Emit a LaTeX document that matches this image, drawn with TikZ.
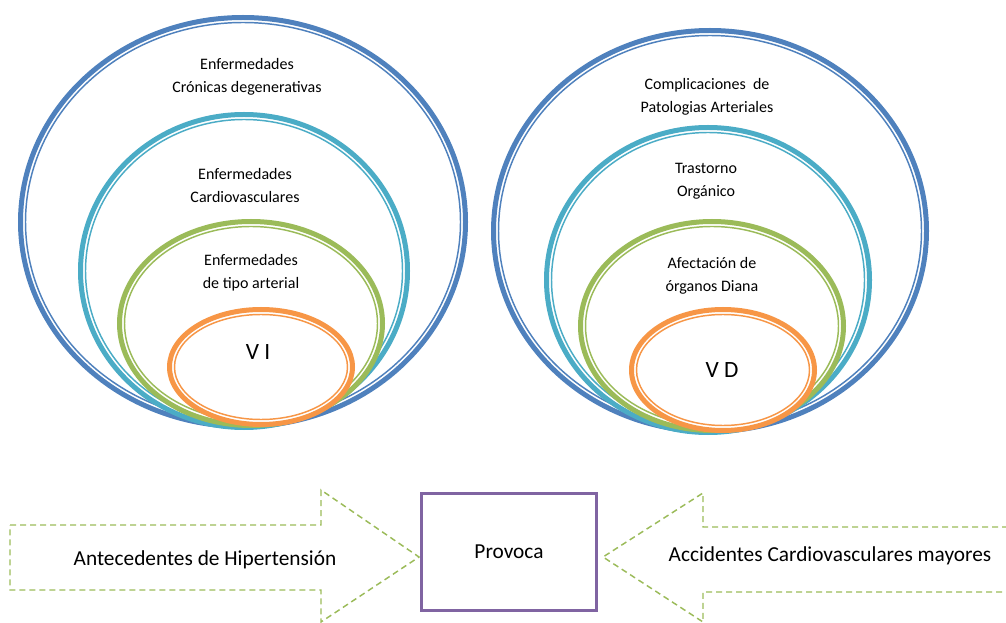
\documentclass[tikz,border=0pt]{standalone}
\usepackage{fontspec}
\setmainfont{Carlito}
\usetikzlibrary{positioning}
\definecolor{ringblue}{RGB}{79,129,189}
\definecolor{ringcyan}{RGB}{75,172,198}
\definecolor{ringgreen}{RGB}{155,187,89}
\definecolor{ringorange}{RGB}{247,150,70}
\definecolor{boxpurple}{RGB}{128,100,162}
\tikzset{
    ring/.style={
        line width=3.75pt,fill=white
    },
    ringline/.style={
        line width=1.1pt
    },
    circtext/.style={
        align=center,font=\fontsize{12}{17.25}\selectfont
    },
    vtext/.style={
        font=\fontsize{17.5}{20}\selectfont
    },
    arrowtext/.style={
        font=\fontsize{16}{19}\selectfont
    },
    hollowarrow/.style={
        draw=ringgreen,line width=1.1pt,dash pattern=on 4.5pt off 3pt
    },
    provocabox/.style={
        draw=boxpurple,line width=2.6pt,minimum width=130.9pt,minimum height=87.4pt
    }
}

\begin{document}
\begin{tikzpicture}[x=0.75pt,y=-0.75pt]
\useasboundingbox (0,0) rectangle (1006,623);
% left set
\draw[ring,draw=ringblue] (243,222) ellipse (222.5 and 204.5);
\draw[ringline,ringblue] (243,222) ellipse (217.5 and 199.5);
\draw[ring,draw=ringcyan] (244,271) ellipse (163.5 and 156.5);
\draw[ringline,ringcyan] (244,271) ellipse (158.5 and 151.5);
\draw[ring,draw=ringgreen] (251,323.5) ellipse (131.5 and 102);
\draw[ringline,ringgreen] (251,323.5) ellipse (126.5 and 97);
\draw[ring,draw=ringorange] (261,367) ellipse (91.5 and 57.5);
\draw[ringline,ringorange] (261,367) ellipse (86.5 and 52.5);
\node[circtext] (cronicas) at (247,77) {Enfermedades\\Crónicas degenerativas};
\node[circtext] (cardio) at (245,186) {Enfermedades\\Cardiovasculares};
\node[circtext] (arterial) at (251,273) {Enfermedades\\de tipo arterial};
\node[vtext] (vi) at (258,352) {V I};
% right set
\draw[ring,draw=ringblue] (710,231) ellipse (216.5 and 200.5);
\draw[ringline,ringblue] (710,231) ellipse (211.5 and 195.5);
\draw[ring,draw=ringcyan] (708,280) ellipse (161.5 and 152.5);
\draw[ringline,ringcyan] (708,280) ellipse (156.5 and 147.5);
\draw[ring,draw=ringgreen] (712,326) ellipse (131.5 and 104.5);
\draw[ringline,ringgreen] (712,326) ellipse (126.5 and 99.5);
\draw[ring,draw=ringorange] (723,370) ellipse (91.5 and 60.5);
\draw[ringline,ringorange] (723,370) ellipse (86.5 and 55.5);
\node[circtext] (complic) at (707,97) {Complicaciones~ de\\Patologias Arteriales};
\node[circtext] (trastorno) at (706,181) {Trastorno\\Orgánico};
\node[circtext] (afectacion) at (712,276) {Afectación de\\órganos Diana};
\node[vtext] (vd) at (722,370) {V D};
% bottom row
\draw[hollowarrow] (10,525) -- (321,525) -- (321,490) -- (419,557) -- (321,622) -- (321,590) -- (10,590) -- cycle;
\draw[hollowarrow] (1008,527) -- (703,527) -- (703,493) -- (603,557) -- (703,622) -- (703,592) -- (1008,592);
\node[provocabox,arrowtext] (provoca) at (509,552) {Provoca};
\node[arrowtext] (antecedentes) at (205,560) {Antecedentes de Hipertensión};
\node[arrowtext] (accidentes) at (830,556) {Accidentes Cardiovasculares mayores};
\end{tikzpicture}
\end{document}
